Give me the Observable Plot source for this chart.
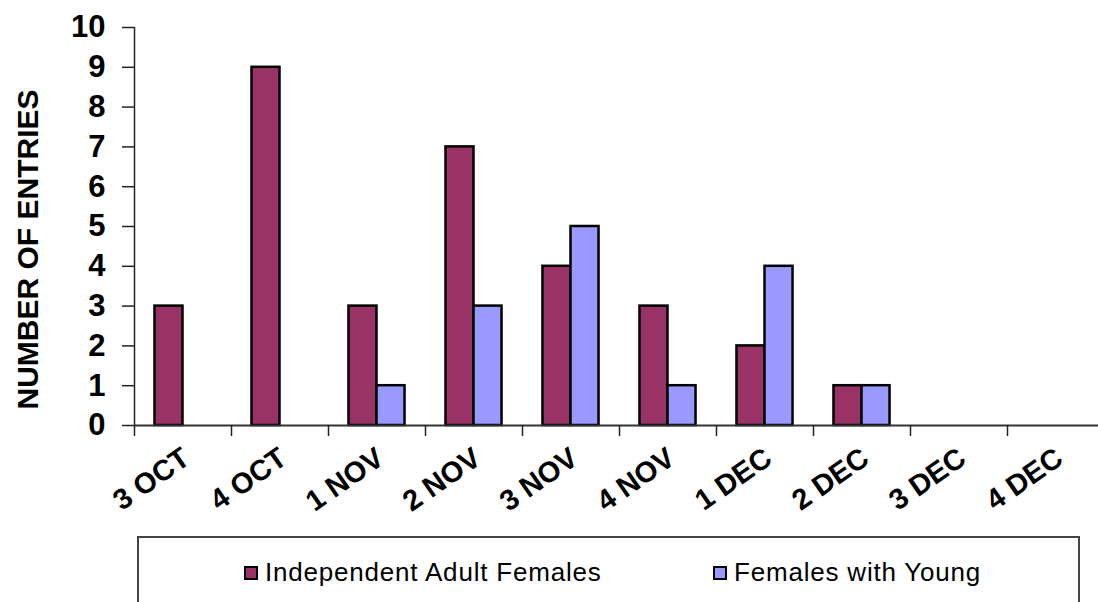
<!DOCTYPE html>
<html>
<head>
<meta charset="utf-8">
<script src="https://cdn.jsdelivr.net/npm/d3@7"></script>
<script src="https://cdn.jsdelivr.net/npm/@observablehq/plot@0.6"></script>
<style>
  body { margin: 0; background: #fff; font-family: "Liberation Sans", Arial, sans-serif; }
  #chart svg { display: block; }
  .legend { position: relative; margin-left: 137px; width: 943px; height: 80px; border: 2px solid #444; border-bottom: none; box-sizing: border-box; }
  .item { position: absolute; top: 19px; display: flex; align-items: center; font-size: 26px; color: #000; letter-spacing: 0.8px; }
  .sw { width: 10px; height: 10px; border: 2px solid #000; margin-right: 7px; }
</style>
</head>
<body>
<div id="chart"></div>
<script>
const categories = ["3 OCT", "4 OCT", "1 NOV", "2 NOV", "3 NOV", "4 NOV", "1 DEC", "2 DEC", "3 DEC", "4 DEC"];
const seriesNames = ["Independent Adult Females", "Females with Young"];
const independentAdultFemales = [3, 9, 3, 7, 4, 3, 2, 1, 0, 0];
const femalesWithYoung = [0, 0, 1, 3, 5, 1, 4, 1, 0, 0];
const yTicks = [0, 1, 2, 3, 4, 5, 6, 7, 8, 9, 10];
const colors = ["#993366", "#9999FF"];

const seriesValues = [independentAdultFemales, femalesWithYoung];
const pad = 0.211; // outer padding of each category band
const bw = (1 - 2 * pad) / 2;
const rows = [];
seriesValues.forEach((vals, s) => {
  vals.forEach((v, i) => {
    if (v > 0) rows.push({i, series: seriesNames[s], value: v, x1: i + pad + s * bw, x2: i + pad + (s + 1) * bw});
  });
});
const labels = categories.map((c, i) => ({c, x: i + 0.5}));

const font = "'Liberation Sans', Arial, sans-serif";
const chart = Plot.plot({
  width: 1098,
  height: 536,
  marginLeft: 134,
  marginRight: -6,
  marginTop: 27,
  marginBottom: 111,
  style: {fontFamily: font, color: "#000", background: "#fff"},
  x: {domain: [0, categories.length], axis: null},
  y: {domain: [0, 10], axis: null},
  color: {domain: seriesNames, range: colors},
  marks: [
    Plot.rectY(rows, {x1: "x1", x2: "x2", y: "value", fill: "series", stroke: "#000", strokeWidth: 2.5}),
    Plot.ruleX([0], {stroke: "#222", strokeWidth: 1.5}),
    Plot.ruleY([0], {stroke: "#333", strokeWidth: 2}),
    Plot.axisX({ticks: d3.range(0, categories.length + 1), tickFormat: () => "", tickSize: 11, stroke: "#222", strokeWidth: 1.5}),
    Plot.axisY({ticks: yTicks, tickSize: 12, tickPadding: 17, fontSize: 31, fontWeight: "bold", label: null, stroke: "#222", strokeWidth: 1.5, tickFormat: d => String(d)}),
    Plot.text(labels, {x: "x", text: "c", frameAnchor: "bottom", dy: 20, dx: -3, rotate: -35, textAnchor: "end", lineAnchor: "top", fontSize: 29, fontWeight: "bold", fill: "#000"}),
    Plot.text(["NUMBER OF ENTRIES"], {frameAnchor: "left", dx: -106, dy: 23, rotate: -90, textAnchor: "middle", fontSize: 30, fontWeight: "bold", fill: "#000"})
  ]
});
document.getElementById("chart").appendChild(chart);

const legend = document.createElement("div");
legend.className = "legend";
const lefts = [105, 574];
seriesNames.forEach((name, k) => {
  const it = document.createElement("div");
  it.className = "item";
  it.style.left = lefts[k] + "px";
  const sw = document.createElement("span");
  sw.className = "sw";
  sw.style.background = colors[k];
  const t = document.createElement("span");
  t.textContent = name;
  it.appendChild(sw);
  it.appendChild(t);
  legend.appendChild(it);
});
document.body.appendChild(legend);
</script>
</body>
</html>
